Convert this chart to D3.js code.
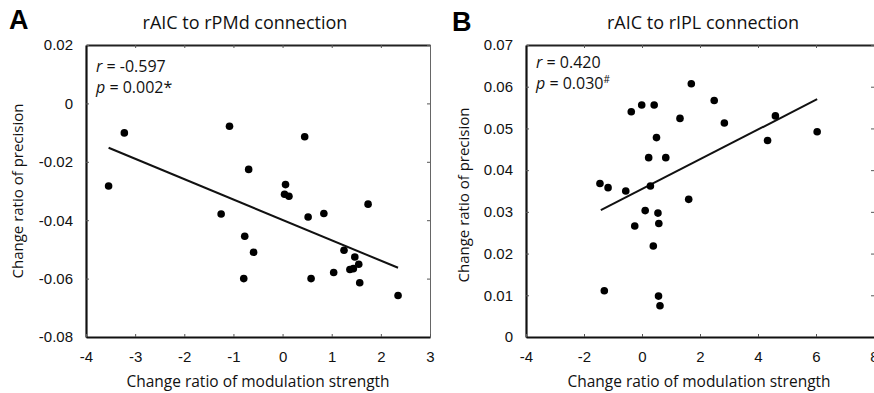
<!DOCTYPE html>
<html>
<head>
<meta charset="utf-8">
<script src="https://cdn.jsdelivr.net/npm/d3@7"></script>
<style>
  body { margin: 0; background: #fff; }
  .tick text { font-family: "Liberation Sans", Arial, sans-serif; font-size: 15px; fill: #111; }
  .lbl { font-family: "Open Sans", sans-serif; fill: #111; }
</style>
</head>
<body>
<svg id="chart" width="874" height="393"></svg>
<script>
// panel A - rAIC to rPMd
const xA = [-3.54, -3.22, -1.08, 0.45, -0.69, 0.06, 0.04, 0.13, -1.25, 1.74, 0.52, 0.84,
            -0.77, -0.59, -0.79, 0.58, 1.04, 1.25, 1.47, 1.55, 1.37, 1.44, 1.57, 2.35];
const yA = [-0.0283, -0.0101, -0.0078, -0.0114, -0.0226, -0.0278, -0.0311, -0.0318, -0.0379, -0.0345, -0.0389, -0.0377,
            -0.0455, -0.051, -0.06, -0.06, -0.0579, -0.0503, -0.0526, -0.0551, -0.0569, -0.0566, -0.0614, -0.0658];
const fitXA = [-3.54, 2.35];
const fitYA = [-0.0152, -0.0563];
const xTicksA = [-4, -3, -2, -1, 0, 1, 2, 3];
const yTicksA = [-0.08, -0.06, -0.04, -0.02, 0, 0.02];
const yLabelsA = ["-0.08", "-0.06", "-0.04", "-0.02", "0", "0.02"];

// panel B - rAIC to rIPL
const xB = [-1.45, -1.17, -0.56, 0.29, -0.37, -0.01, 0.42, 1.31, 1.70, 2.49, 2.84, 0.50, 0.23,
            0.82, 4.33, 4.60, 6.04, 1.61, 0.11, 0.55, 0.58, -0.25, 0.39, -1.30, 0.57, 0.62];
const yB = [0.0368, 0.0358, 0.035, 0.0362, 0.054, 0.0556, 0.0556, 0.0524, 0.0607, 0.0567, 0.0513, 0.0478, 0.043,
            0.043, 0.0471, 0.053, 0.0492, 0.033, 0.0303, 0.0297, 0.0272, 0.0266, 0.0218, 0.0111, 0.0098, 0.0075];
const fitXB = [-1.42, 6.04];
const fitYB = [0.0304, 0.057];
const xTicksB = [-4, -2, 0, 2, 4, 6, 8];
const yTicksB = [0, 0.01, 0.02, 0.03, 0.04, 0.05, 0.06, 0.07];
const yLabelsB = ["0", "0.01", "0.02", "0.03", "0.04", "0.05", "0.06", "0.07"];

const svg = d3.select("#chart");

function drawPanel(p) {
  const x = d3.scaleLinear().domain(p.xDomain).range([p.left, p.right]);
  const y = d3.scaleLinear().domain(p.yDomain).range([p.bottom, p.top]);
  const g = svg.append("g");

  // frame: top + right, ticks inward
  g.append("g").attr("transform", "translate(0," + p.top + ")")
    .call(d3.axisTop(x).tickValues(p.xTicks).tickSize(-3).tickSizeOuter(0).tickFormat(""))
    .call(a => a.select(".domain").attr("stroke", "#222").attr("stroke-width", 2));
  g.append("g").attr("transform", "translate(" + p.right + ",0)")
    .call(d3.axisRight(y).tickValues(p.yTicks).tickSize(-3).tickSizeOuter(0).tickFormat(""))
    .call(a => a.select(".domain").attr("stroke", "#666").attr("stroke-width", 1));

  // left + bottom
  g.append("g").attr("transform", "translate(" + p.left + ",0)")
    .call(d3.axisLeft(y).tickValues(p.yTicks).tickSize(-3).tickSizeOuter(0).tickPadding(13)
      .tickFormat((d, i) => p.yLabels[i]))
    .call(a => a.select(".domain").attr("stroke", "#111").attr("stroke-width", 2.2));
  g.append("g").attr("transform", "translate(0," + p.bottom + ")")
    .call(d3.axisBottom(x).tickValues(p.xTicks).tickSize(-3).tickSizeOuter(0).tickPadding(14)
      .tickFormat(d => String(d)))
    .call(a => a.select(".domain").attr("stroke", "#111").attr("stroke-width", 2.2));
  g.selectAll(".tick line").attr("stroke", "#555");

  // regression line
  g.append("line")
    .attr("x1", x(p.fitX[0])).attr("y1", y(p.fitY[0]))
    .attr("x2", x(p.fitX[1])).attr("y2", y(p.fitY[1]))
    .attr("stroke", "#111").attr("stroke-width", 2);

  // points
  g.selectAll("circle.pt").data(p.xs).enter().append("circle")
    .attr("class", "pt")
    .attr("cx", d => x(d))
    .attr("cy", (d, i) => y(p.ys[i]))
    .attr("r", 3.8)
    .attr("fill", "#000");

  // texts
  g.append("text").attr("class", "lbl")
    .attr("x", p.titleX).attr("y", 29)
    .attr("text-anchor", "middle").style("font-size", "18px")
    .text(p.title);
  g.append("text")
    .attr("x", p.letterX).attr("y", p.letterY)
    .style("font-family", "Liberation Sans, Arial, sans-serif")
    .style("font-weight", "bold").style("font-size", "27px").attr("fill", "#000")
    .text(p.letter);
  g.append("text").attr("class", "lbl")
    .attr("x", (p.left + p.right) / 2 + p.xLabelShift).attr("y", 387)
    .attr("text-anchor", "middle").style("font-size", "15.5px")
    .text("Change ratio of modulation strength");
  g.append("text").attr("class", "lbl")
    .attr("transform", "translate(" + p.yLabelX + "," + p.yLabelY + ") rotate(-90)")
    .attr("text-anchor", "middle").style("font-size", "15px")
    .text("Change ratio of precision");

  const r = g.append("text").attr("class", "lbl")
    .attr("x", p.left + 10).attr("y", p.statY[0]).style("font-size", "16px");
  r.append("tspan").style("font-style", "italic").text("r");
  r.append("tspan").text(" = " + p.rVal);
  const pv = g.append("text").attr("class", "lbl")
    .attr("x", p.left + 10).attr("y", p.statY[1]).style("font-size", "16px");
  pv.append("tspan").style("font-style", "italic").text("p");
  pv.append("tspan").text(" = " + p.pVal);
  if (p.pMark === "#") {
    pv.append("tspan").attr("dy", -6).style("font-size", "10px").text("#");
  } else {
    pv.append("tspan").text(p.pMark);
  }
}

drawPanel({
  xs: xA, ys: yA, fitX: fitXA, fitY: fitYA,
  xDomain: [-4, 3], yDomain: [-0.08, 0.02],
  xTicks: xTicksA, yTicks: yTicksA, yLabels: yLabelsA,
  left: 86, right: 430, top: 45, bottom: 337,
  title: "rAIC to rPMd connection", titleX: 245,
  letter: "A", letterX: 9, letterY: 29,
  xLabelShift: 0, yLabelX: 23, yLabelY: 191,
  rVal: "-0.597", pVal: "0.002", pMark: "*", statY: [72, 93]
});

drawPanel({
  xs: xB, ys: yB, fitX: fitXB, fitY: fitYB,
  xDomain: [-4, 8], yDomain: [0, 0.07],
  xTicks: xTicksB, yTicks: yTicksB, yLabels: yLabelsB,
  left: 526, right: 874, top: 45, bottom: 337,
  title: "rAIC to rIPL connection", titleX: 703,
  letter: "B", letterX: 452, letterY: 31,
  xLabelShift: -1, yLabelX: 469, yLabelY: 195,
  rVal: "0.420", pVal: "0.030", pMark: "#", statY: [68, 89]
});
</script>
</body>
</html>
